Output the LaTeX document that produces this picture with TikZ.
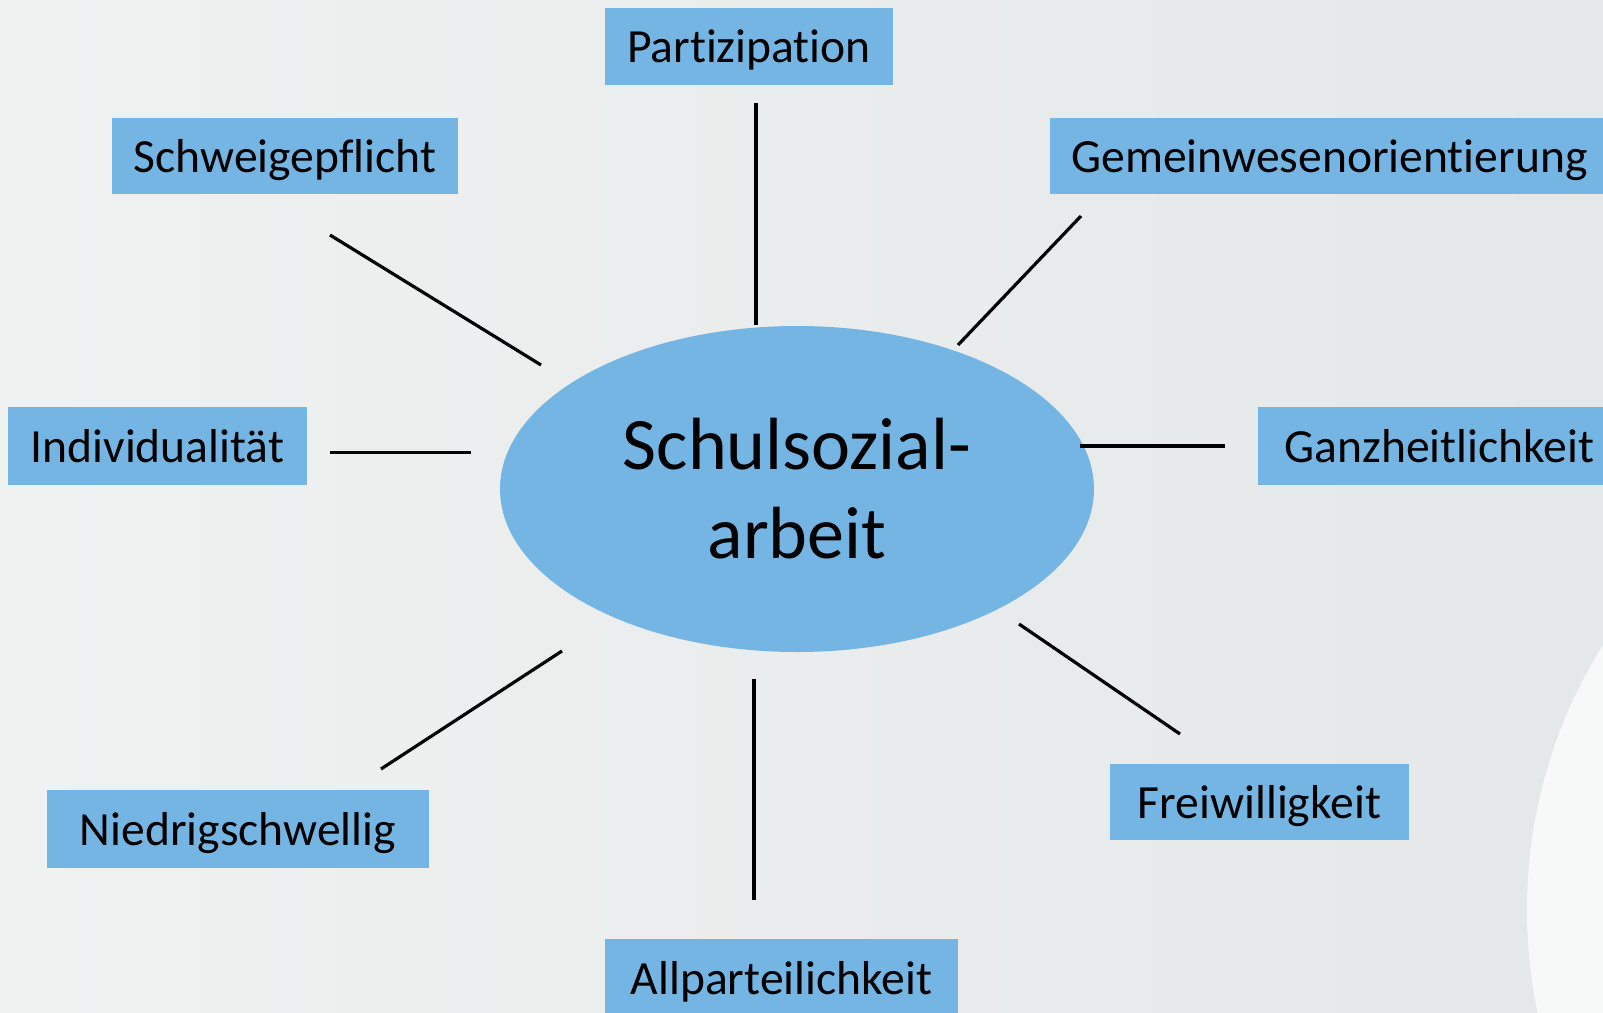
\documentclass[tikz,border=0pt]{standalone}
\usepackage{fontspec}
\setmainfont{Carlito}[RawFeature={-liga;-clig;-dlig;-calt}]
\usetikzlibrary{shapes.geometric}
\definecolor{boxblue}{HTML}{75B5E3}
\definecolor{bgl}{HTML}{F0F1F1}
\definecolor{bgr}{HTML}{E4E8E9}
\definecolor{swoosh}{HTML}{F7F8F8}
\begin{document}
\begin{tikzpicture}[x=0.5pt,y=-0.5pt,
  lbl/.style={fill=boxblue, inner sep=0pt, text depth=0pt, font=\fontsize{23.8}{27}\selectfont, text=black},
  conn/.style={draw=black, line width=1.6pt}]
\useasboundingbox (0,0) rectangle (1603,1013);
\shade[left color=bgl, right color=bgr] (0,0) rectangle (1603,1013);
\begin{scope}
\clip (0,0) rectangle (1603,1013);
\fill[swoosh] (2027,910) circle [radius=500];
\end{scope}
% centre
\node[ellipse, fill=boxblue, minimum width=297pt, minimum height=163pt, inner sep=0pt,
  align=center, font=\fontsize{37}{44.5}\selectfont] (c) at (797,489) {Schulsozial-\\arbeit};
% boxes
\node[lbl, minimum width=144pt, minimum height=38.5pt] (p) at (749,46.5) {Partizipation};
\node[lbl, minimum width=173pt, minimum height=38pt] (s) at (285,156) {Schweigepflicht};
\node[lbl, anchor=west, inner xsep=10.5pt, text width=300pt, align=left, minimum height=38pt] (g) at (1050,156) {Gemeinwesenorientierung};
\node[lbl, minimum width=149.5pt, minimum height=39pt] (i) at (157.5,446) {Individualität};
\node[lbl, anchor=west, inner xsep=13pt, text width=200pt, align=left, minimum height=39pt] (h) at (1258,446) {Ganzheitlichkeit};
\node[lbl, minimum width=191pt, minimum height=39pt] (n) at (238,829) {Niedrigschwellig};
\node[lbl, minimum width=149.5pt, minimum height=38pt] (f) at (1259.5,802) {Freiwilligkeit};
\node[lbl, minimum width=176.5pt, minimum height=39pt] (a) at (781.5,978) {Allparteilichkeit};
% connector ends
\coordinate (p1) at (756,103); \coordinate (p2) at (756,325);
\coordinate (s1) at (330,235); \coordinate (s2) at (541,365);
\coordinate (g1) at (1081,216); \coordinate (g2) at (958,345);
\coordinate (i1) at (330,452.5); \coordinate (i2) at (471,452.5);
\coordinate (h1) at (1080,446); \coordinate (h2) at (1225,446);
\coordinate (n1) at (562,651); \coordinate (n2) at (381,769);
\coordinate (a1) at (754,679); \coordinate (a2) at (754,900);
\coordinate (f1) at (1019,624); \coordinate (f2) at (1180,734);
\draw[conn] (p1) -- (p2);
\draw[conn] (s1) -- (s2);
\draw[conn] (g1) -- (g2);
\draw[conn] (i1) -- (i2);
\draw[conn] (h1) -- (h2);
\draw[conn] (n1) -- (n2);
\draw[conn] (a1) -- (a2);
\draw[conn] (f1) -- (f2);
\end{tikzpicture}
\end{document}
